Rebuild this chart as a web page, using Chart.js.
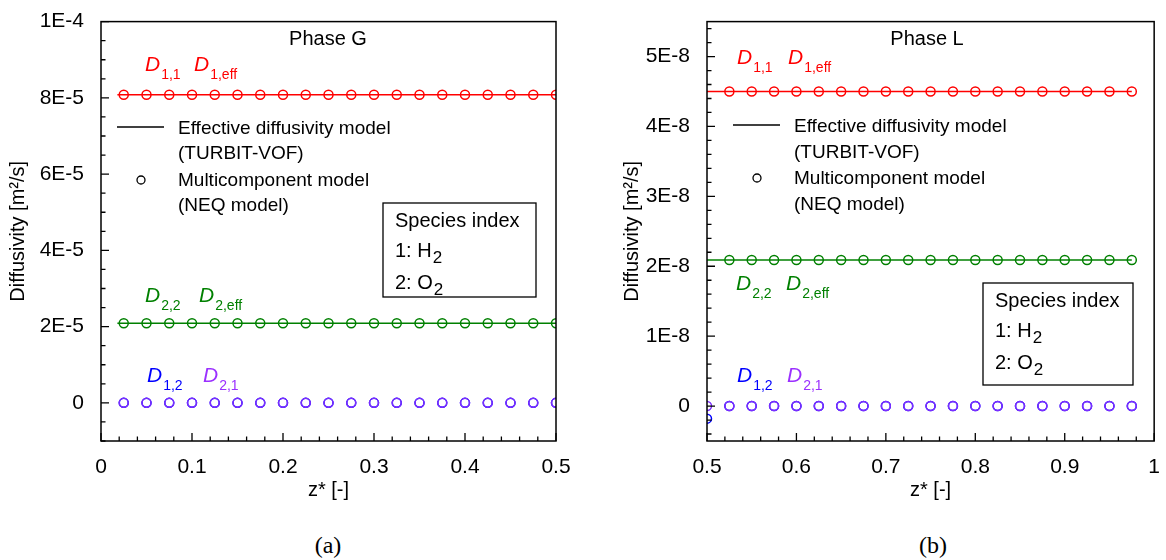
<!DOCTYPE html>
<html>
<head>
<meta charset="utf-8">
<script src="https://cdn.jsdelivr.net/npm/chart.js@4.4.0/dist/chart.umd.min.js"></script>
<style>
  body { margin: 0; background: #fff; width: 1166px; height: 560px; position: relative; overflow: hidden; }
  .panel { position: absolute; top: 0; }
  #wrapG { left: 0; }
  #wrapL { left: 600px; }
  .caption { position: absolute; top: 531px; width: 100px; text-align: center; line-height: 28px;
             font-family: "Liberation Serif", "Times New Roman", serif; font-size: 24px; color: #000; }
</style>
</head>
<body>
<div class="panel" id="wrapG"><canvas id="chartG" width="600" height="510"></canvas></div>
<div class="panel" id="wrapL"><canvas id="chartL" width="566" height="510"></canvas></div>
<div class="caption" style="left:278px">(a)</div>
<div class="caption" style="left:883px">(b)</div>
<script>
// ---- Phase G (gas) ----
const zG = [0.025, 0.05, 0.075, 0.1, 0.125, 0.15, 0.175, 0.2, 0.225, 0.25,
            0.275, 0.3, 0.325, 0.35, 0.375, 0.4, 0.425, 0.45, 0.475, 0.5];
const D11G = [8.08e-5, 8.08e-5, 8.08e-5, 8.08e-5, 8.08e-5, 8.08e-5, 8.08e-5, 8.08e-5, 8.08e-5, 8.08e-5,
              8.08e-5, 8.08e-5, 8.08e-5, 8.08e-5, 8.08e-5, 8.08e-5, 8.08e-5, 8.08e-5, 8.08e-5, 8.08e-5];
const D22G = [2.09e-5, 2.09e-5, 2.09e-5, 2.09e-5, 2.09e-5, 2.09e-5, 2.09e-5, 2.09e-5, 2.09e-5, 2.09e-5,
              2.09e-5, 2.09e-5, 2.09e-5, 2.09e-5, 2.09e-5, 2.09e-5, 2.09e-5, 2.09e-5, 2.09e-5, 2.09e-5];
const D12G = [0, 0, 0, 0, 0, 0, 0, 0, 0, 0, 0, 0, 0, 0, 0, 0, 0, 0, 0, 0];
const D21G = [0, 0, 0, 0, 0, 0, 0, 0, 0, 0, 0, 0, 0, 0, 0, 0, 0, 0, 0, 0];
const zEffG = [0.018, 0.5];
const D1effG = [8.08e-5, 8.08e-5];
const D2effG = [2.09e-5, 2.09e-5];
const xTicksG = [0, 0.1, 0.2, 0.3, 0.4, 0.5];
const xLabelsG = ['0', '0.1', '0.2', '0.3', '0.4', '0.5'];
const yTicksG = [0, 2e-5, 4e-5, 6e-5, 8e-5, 1e-4];
const yLabelsG = ['0', '2E-5', '4E-5', '6E-5', '8E-5', '1E-4'];

// ---- Phase L (liquid) ----
const zL = [0.5, 0.525, 0.55, 0.575, 0.6, 0.625, 0.65, 0.675, 0.7, 0.725,
            0.75, 0.775, 0.8, 0.825, 0.85, 0.875, 0.9, 0.925, 0.95, 0.975];
const D11L = [null, 4.5e-8, 4.5e-8, 4.5e-8, 4.5e-8, 4.5e-8, 4.5e-8, 4.5e-8, 4.5e-8, 4.5e-8,
              4.5e-8, 4.5e-8, 4.5e-8, 4.5e-8, 4.5e-8, 4.5e-8, 4.5e-8, 4.5e-8, 4.5e-8, 4.5e-8];
const D22L = [null, 2.09e-8, 2.09e-8, 2.09e-8, 2.09e-8, 2.09e-8, 2.09e-8, 2.09e-8, 2.09e-8, 2.09e-8,
              2.09e-8, 2.09e-8, 2.09e-8, 2.09e-8, 2.09e-8, 2.09e-8, 2.09e-8, 2.09e-8, 2.09e-8, 2.09e-8];
const D12L = [-1.8e-9, 0, 0, 0, 0, 0, 0, 0, 0, 0, 0, 0, 0, 0, 0, 0, 0, 0, 0, 0];
const D21L = [0, 0, 0, 0, 0, 0, 0, 0, 0, 0, 0, 0, 0, 0, 0, 0, 0, 0, 0, 0];
const zEffL = [0.5, 0.975];
const D1effL = [4.5e-8, 4.5e-8];
const D2effL = [2.09e-8, 2.09e-8];
const xTicksL = [0.5, 0.6, 0.7, 0.8, 0.9, 1];
const xLabelsL = ['0.5', '0.6', '0.7', '0.8', '0.9', '1'];
const yTicksL = [0, 1e-8, 2e-8, 3e-8, 4e-8, 5e-8];
const yLabelsL = ['0', '1E-8', '2E-8', '3E-8', '4E-8', '5E-8'];

const RED = '#ff0000', GREEN = '#008000', BLUE = '#0000ff', VIOLET = '#7b2cff', VIOLET_TXT = '#9b30ff';
const FONT = '"Liberation Sans", Arial, sans-serif';

Chart.defaults.font.family = FONT;
Chart.defaults.color = '#000';

const pts = (xs, ys) => xs.map((x, i) => ({ x: x, y: ys[i] }));

const lineSet = (xs, ys, color) => ({
  data: pts(xs, ys), showLine: true, borderColor: color, borderWidth: 1.6,
  pointRadius: 0, clip: 0
});
const circleSet = (xs, ys, color) => ({
  data: pts(xs, ys), showLine: false, borderColor: color, backgroundColor: 'transparent',
  pointRadius: 4.5, pointBorderWidth: 1.5, clip: 0
});

// D with a subscript, e.g. D_{1,eff}
function drawSub(ctx, x, y, sub, color) {
  ctx.fillStyle = color;
  ctx.font = 'italic 21px ' + FONT;
  ctx.fillText('D', x, y);
  const w = ctx.measureText('D').width;
  ctx.font = '14px ' + FONT;
  ctx.fillText(sub, x + w + 1, y + 8);
}

// frame, inward ticks, in-plot legend, labels and species box
const decor = {
  id: 'decor',
  afterDatasetsDraw(chart) {
    const o = chart.options.plugins.decor;
    const { ctx, chartArea: a } = chart;
    const xs = chart.scales.x, ys = chart.scales.y;
    ctx.save();
    ctx.strokeStyle = '#000';
    ctx.lineWidth = 1.5;
    ctx.strokeRect(a.left, a.top, a.right - a.left, a.bottom - a.top);
    ctx.lineWidth = 1.3;
    ctx.beginPath();
    const minorX = Math.round((xs.max - xs.min) / o.xMinor);
    for (let k = 0; k <= minorX; k++) {
      const px = xs.getPixelForValue(xs.min + k * o.xMinor);
      ctx.moveTo(px, a.bottom); ctx.lineTo(px, a.bottom - 4.5);
    }
    const k0 = Math.ceil(ys.min / o.yMinor - 1e-6), k1 = Math.floor(ys.max / o.yMinor + 1e-6);
    for (let k = k0; k <= k1; k++) {
      const py = ys.getPixelForValue(k * o.yMinor);
      ctx.moveTo(a.left, py); ctx.lineTo(a.left + 4.5, py);
    }
    xs.ticks.forEach(t => {
      const px = xs.getPixelForValue(t.value);
      ctx.moveTo(px, a.bottom); ctx.lineTo(px, a.bottom - 8);
    });
    ys.ticks.forEach(t => {
      const py = ys.getPixelForValue(t.value);
      ctx.moveTo(a.left, py); ctx.lineTo(a.left + 8, py);
    });
    ctx.stroke();
    ctx.restore();
  },
  afterDraw(chart) {
    const o = chart.options.plugins.decor;
    const ctx = chart.ctx;
    ctx.save();
    ctx.textBaseline = 'alphabetic';
    ctx.textAlign = 'center';
    ctx.fillStyle = '#000';
    ctx.font = '20px ' + FONT;
    ctx.fillText(o.phase, o.phaseX, 45);

    // legend
    const lg = o.legend;
    ctx.textAlign = 'left';
    ctx.strokeStyle = '#000';
    ctx.lineWidth = 1.5;
    ctx.beginPath();
    ctx.moveTo(lg.lineX[0], lg.lineY); ctx.lineTo(lg.lineX[1], lg.lineY);
    ctx.stroke();
    ctx.lineWidth = 1.3;
    ctx.beginPath();
    ctx.arc(lg.circle[0], lg.circle[1], 4, 0, Math.PI * 2);
    ctx.stroke();
    ctx.font = '19px ' + FONT;
    ['Effective diffusivity model', '(TURBIT-VOF)', 'Multicomponent model', '(NEQ model)']
      .forEach((s, i) => ctx.fillText(s, lg.textX, lg.base[i]));

    // species index box
    const b = o.box;
    ctx.lineWidth = 1.3;
    ctx.strokeRect(b.x, b.y, b.w, b.h);
    ctx.font = '20px ' + FONT;
    ctx.fillText('Species index', b.x + 12, b.y + 24);
    [['1: H', b.y + 54], ['2: O', b.y + 86]].forEach(([s, y]) => {
      ctx.font = '20px ' + FONT;
      ctx.fillText(s, b.x + 12, y);
      const w = ctx.measureText(s).width;
      ctx.font = '17px ' + FONT;
      ctx.fillText('2', b.x + 12 + w + 1, y + 6);
    });

    o.labels.forEach(l => drawSub(ctx, l[0], l[1], l[2], l[3]));
    ctx.restore();
  }
};

function makePanel(id, cfg) {
  const tickFont = { size: 21, family: FONT };
  const titleFont = { size: 20, family: FONT };
  return new Chart(document.getElementById(id), {
    type: 'scatter',
    data: { datasets: cfg.datasets },
    plugins: [decor],
    options: {
      responsive: false,
      animation: false,
      layout: { padding: { left: 0, right: cfg.padRight, top: 17, bottom: 0 } },
      plugins: { legend: { display: false }, tooltip: { enabled: false }, decor: cfg.decor },
      scales: {
        x: {
          type: 'linear', min: cfg.xMin, max: cfg.xMax,
          afterBuildTicks: s => { s.ticks = cfg.xTicks.map(v => ({ value: v })); },
          afterFit: s => { s.height = 69; },
          grid: { display: false }, border: { display: false },
          ticks: { font: tickFont, color: '#000', padding: 6, maxRotation: 0, autoSkip: false,
                   callback: (v, i) => cfg.xLabels[i] },
          title: { display: true, text: 'z* [-]', font: titleFont, color: '#000',
                   padding: { top: 0, bottom: 8 } }
        },
        y: {
          type: 'linear', min: cfg.yMin, max: cfg.yMax,
          afterBuildTicks: s => { s.ticks = cfg.yTicks.map(v => ({ value: v })); },
          afterFit: s => { s.width = cfg.yWidth; },
          grid: { display: false }, border: { display: false },
          ticks: { font: tickFont, color: '#000', padding: 9, autoSkip: false,
                   callback: (v, i) => cfg.yLabels[i] },
          title: { display: true, text: 'Diffusivity [m\u00b2/s]', font: titleFont, color: '#000',
                   padding: { top: cfg.yTitlePad, bottom: 0 } }
        }
      }
    }
  });
}

// Chart.js paints the first dataset last, so D2,1 goes before D1,2 to sit on top
makePanel('chartG', {
  xMin: 0, xMax: 0.5, yMin: -1e-5, yMax: 1e-4,
  xTicks: xTicksG, xLabels: xLabelsG, yTicks: yTicksG, yLabels: yLabelsG,
  yWidth: 101, padRight: 44, yTitlePad: 6,
  datasets: [
    lineSet(zEffG, D1effG, RED),
    lineSet(zEffG, D2effG, GREEN),
    circleSet(zG, D11G, RED),
    circleSet(zG, D22G, GREEN),
    circleSet(zG, D21G, VIOLET),
    circleSet(zG, D12G, BLUE)
  ],
  decor: {
    xMinor: 0.02, yMinor: 5e-6, phase: 'Phase G', phaseX: 328,
    legend: { lineX: [117, 164], lineY: 127, circle: [141, 180], textX: 178, base: [134, 159, 186, 211] },
    box: { x: 383, y: 203, w: 153, h: 94 },
    labels: [[145, 71, '1,1', RED], [194, 71, '1,eff', RED],
             [145, 302, '2,2', GREEN], [199, 302, '2,eff', GREEN],
             [147, 382, '1,2', BLUE], [203, 382, '2,1', VIOLET_TXT]]
  }
});

makePanel('chartL', {
  xMin: 0.5, xMax: 1, yMin: -0.5e-8, yMax: 5.5e-8,
  xTicks: xTicksL, xLabels: xLabelsL, yTicks: yTicksL, yLabels: yLabelsL,
  yWidth: 107, padRight: 6, yTitlePad: 20,
  datasets: [
    lineSet(zEffL, D1effL, RED),
    lineSet(zEffL, D2effL, GREEN),
    circleSet(zL, D11L, RED),
    circleSet(zL, D22L, GREEN),
    circleSet(zL, D21L, VIOLET),
    circleSet(zL, D12L, BLUE)
  ],
  decor: {
    xMinor: 0.02, yMinor: 2e-9, phase: 'Phase L', phaseX: 327,
    legend: { lineX: [133, 180], lineY: 125, circle: [157, 178], textX: 194, base: [132, 158, 184, 210] },
    box: { x: 383, y: 283, w: 150, h: 102 },
    labels: [[137, 64, '1,1', RED], [188, 64, '1,eff', RED],
             [136, 290, '2,2', GREEN], [186, 290, '2,eff', GREEN],
             [137, 382, '1,2', BLUE], [187, 382, '2,1', VIOLET_TXT]]
  }
});
</script>
</body>
</html>
